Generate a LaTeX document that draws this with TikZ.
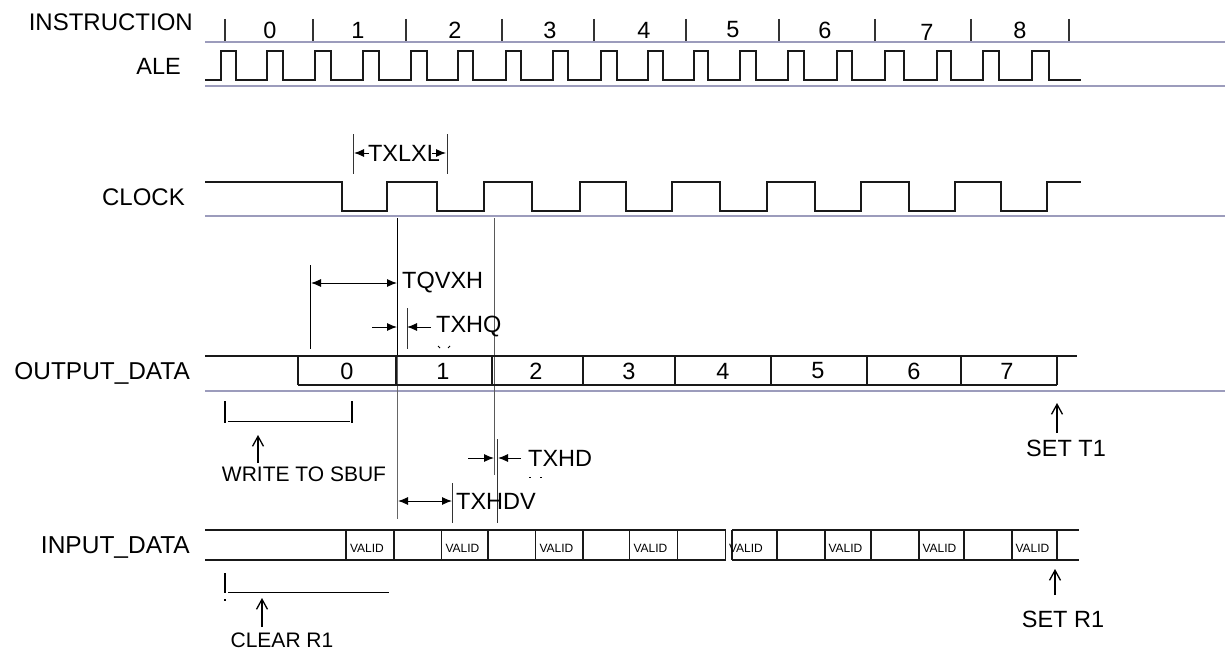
\documentclass[tikz,border=0pt]{standalone}
\usepackage{fontspec}
\setmainfont{Liberation Sans}
\usetikzlibrary{arrows.meta}
\definecolor{axisgray}{HTML}{9C9CBC}
\tikzset{
	axis/.style={line width=1.5pt, color=axisgray},
	signal/.style={line width=1.5pt, color=black!90},
	thinbar/.style={line width=0.8pt, color=black!80},
	dim/.style={line width=1pt, {Latex[length=10pt,width=8pt]}-{Latex[length=10pt,width=8pt]}},
	dimto/.style={line width=1pt, -{Latex[length=10pt,width=8pt]}},
	openup/.style={line width=1.3pt, -{Straight Barb[length=10pt,width=11pt]}},
	lbl/.style={inner sep=0pt, font=\fontsize{23.5}{25}\selectfont},
	small/.style={inner sep=0pt, font=\fontsize{12}{14}\selectfont}
}

\begin{document}
\begin{tikzpicture}[x=1pt, y=-1pt]
		%%%%% START %%%%%
		\useasboundingbox (0, 0) rectangle (1225, 650);
		
		% row labels
		\node[lbl, font=\fontsize{24}{26}\selectfont, anchor=east] (instruction) at (193, 22) {INSTRUCTION};
		\node[lbl, anchor=east] (ale) at (181, 66) {ALE};
		\node[lbl, font=\fontsize{24}{26}\selectfont, anchor=east] (clock) at (185, 197) {CLOCK};
		\node[lbl, font=\fontsize{24.4}{27}\selectfont, anchor=east] (outputdata) at (190, 373) {OUTPUT\_DATA};
		\node[lbl, font=\fontsize{24.5}{27}\selectfont, anchor=east] (inputdata) at (190, 547) {INPUT\_DATA};
		
		% grey rules under the rows
		\draw[axis] (205, 42) -- (1225, 42);
		\draw[axis] (205, 86) -- (1225, 86);
		\draw[axis] (205, 216) -- (1225, 216);
		\draw[axis] (205, 391) -- (1225, 391);
		
		% instruction cycles
		\foreach \x in {225, 313, 406, 502, 594, 686, 779, 875, 971, 1069}
			\draw[line width=1.2pt, color=black!80] (\x, 19) -- (\x, 41);
		\foreach \x/\n in {270/0, 358/1, 455/2, 550/3, 644/4, 733/5, 825/6, 1020/8}
			\node[lbl] (cycle\n) at (\x, 30) {\n};
		\node[lbl] (cycle7) at (927, 32) {7};
		
		% ALE
		\draw[signal] (205, 80) -| (221, 51) -| (236, 80) -| (267, 51) -| (283, 80) -| (315, 51) -| (331, 80)
			-| (363, 51) -| (379, 80) -| (411, 51) -| (427, 80) -| (458, 51) -| (473, 80) -| (506, 51) -| (521, 80)
			-| (553, 51) -| (568, 80) -| (601, 51) -| (617, 80) -| (648, 51) -| (663, 80) -| (694, 51) -| (708, 80)
			-| (740, 51) -| (756, 80) -| (788, 51) -| (804, 80) -| (837, 51) -| (852, 80) -| (885, 51) -| (904, 80)
			-| (937, 51) -| (951, 80) -| (983, 51) -| (999, 80) -| (1032, 51) -| (1049, 80) -- (1081, 80);
		
		% CLOCK
		\draw[signal] (205, 182) -| (342, 211) -| (387, 182) -| (437, 211) -| (484, 182) -| (532, 211) -| (580, 182)
			-| (626, 211) -| (672, 182) -| (720, 211) -| (767, 182) -| (815, 211) -| (861, 182) -| (909, 211)
			-| (955, 182) -| (1001, 211) -| (1047, 182) -- (1081, 182);
		
		% TXLXL
		\draw[thinbar] (353, 134) -- (353, 174);
		\draw[thinbar] (447, 134) -- (447, 174);
		\node[lbl] (txlxl) at (404, 153) {TXLXL};
		\coordinate (txlxlA) at (369, 153);
		\coordinate (txlxlB) at (354, 153);
		\coordinate (txlxlC) at (432, 153);
		\coordinate (txlxlD) at (446, 153);
		\draw[dimto] (txlxlA) -- (txlxlB);
		\draw[dimto] (txlxlC) -- (txlxlD);
		
		% long edges from the clock
		\draw[line width=1pt, color=black] (397, 218) -- (397, 356);
		\draw[line width=1pt, color=black!60] (397, 356) -- (397, 519);
		\draw[line width=1pt, color=black!65] (494, 218) -- (494, 475);
		
		% TQVXH
		\draw[line width=1pt] (310, 265) -- (310, 349);
		\coordinate (tqvxhL) at (311, 283);
		\coordinate (tqvxhR) at (397, 283);
		\draw[dim] (tqvxhL) -- (tqvxhR);
		\node[lbl, anchor=west] (tqvxh) at (402, 283) {TQVXH};
		
		% TXHQ
		\draw[thinbar] (407, 308) -- (407, 349);
		\coordinate (txhqA) at (372, 327);
		\coordinate (txhqB) at (397, 327);
		\coordinate (txhqC) at (431, 327);
		\coordinate (txhqD) at (407, 327);
		\draw[dimto] (txhqA) -- (txhqB);
		\draw[dimto] (txhqC) -- (txhqD);
		\node[lbl, anchor=west] (txhq) at (436, 327) {TXHQ};
		\draw[line width=1pt] (438, 346) -- (440, 348);
		\draw[line width=1pt] (450, 346) -- (448, 348);
		
		% OUTPUT_DATA
		\draw[signal] (205, 356) -- (1077, 356);
		\draw[signal] (298, 385) -- (1057, 385);
		\foreach \x in {298, 396, 492, 583, 675, 771, 867, 961, 1057}
			\draw[signal] (\x, 356) -- (\x, 385);
		\foreach \x/\n in {347/0, 443/1, 536/2, 629/3, 723/4, 818/5, 914/6, 1007/7}
			\node[lbl] (bit\n) at (\x, 371) {\n};
		
		% WRITE TO SBUF
		\draw[line width=1.3pt] (225, 401) -- (225, 423);
		\draw[line width=1.3pt] (352, 401) -- (352, 423);
		\draw[line width=1pt] (228, 421) -- (350, 421);
		\node[lbl, font=\fontsize{21}{23}\selectfont] (writesbuf) at (304, 474) {WRITE TO SBUF};
		\coordinate (writetail) at (258, 463);
		\coordinate (writehead) at (258, 435);
		\draw[openup] (writetail) -- (writehead);
		
		% TXHD
		\draw[thinbar] (497, 439) -- (497, 523);
		\coordinate (txhdA) at (468, 458);
		\coordinate (txhdB) at (494, 458);
		\coordinate (txhdC) at (521, 458);
		\coordinate (txhdD) at (498, 458);
		\draw[dimto] (txhdA) -- (txhdB);
		\draw[dimto] (txhdC) -- (txhdD);
		\node[lbl, anchor=west] (txhd) at (528, 458) {TXHD};
		\draw[line width=1pt] (529, 477) -- (531, 477);
		\draw[line width=1pt] (540, 477) -- (542, 477);
		
		% TXHDV
		\draw[thinbar] (452, 483) -- (452, 523);
		\coordinate (txhdvL) at (398, 501);
		\coordinate (txhdvR) at (452, 501);
		\draw[dim] (txhdvL) -- (txhdvR);
		\node[lbl, anchor=west] (txhdv) at (456, 501) {TXHDV};
		
		% INPUT_DATA
		\draw[signal] (205, 530) -- (725.5, 530);
		\draw[signal] (205, 560) -- (725.5, 560);
		\draw[signal] (732, 530) -- (1079, 530);
		\draw[signal] (732, 560) -- (1079, 560);
		\foreach \x in {346, 394, 441.5, 488, 535.5, 583, 629.5, 677.5, 725.5, 732, 777, 825, 871, 919, 964, 1012, 1057}
			\draw[signal] (\x, 530) -- (\x, 560);
		\foreach \x/\n in {367/a, 462.5/b, 556.5/c, 650.5/d, 746/e, 845.5/f, 939.5/g, 1032.5/h}
			\node[small] (valid\n) at (\x, 548) {VALID};
		
		% CLEAR R1
		\draw[line width=1.3pt] (225, 573) -- (225, 593);
		\draw[line width=1.3pt] (225, 599) -- (225, 601);
		\draw[line width=1pt] (228, 592) -- (389, 592);
		\coordinate (cleartail) at (262, 627);
		\coordinate (clearhead) at (262, 598);
		\draw[openup] (cleartail) -- (clearhead);
		\node[lbl, font=\fontsize{21}{23}\selectfont] (clearr) at (282, 640) {CLEAR R1};
		
		% SET T1 and SET R1
		\coordinate (settail) at (1057, 433);
		\coordinate (sethead) at (1057, 403);
		\draw[openup] (settail) -- (sethead);
		\node[lbl] (sett) at (1066, 448) {SET T1};
		\coordinate (setrtail) at (1055, 595);
		\coordinate (setrhead) at (1055, 569);
		\draw[openup] (setrtail) -- (setrhead);
		\node[lbl] (setr) at (1063, 619) {SET R1};
		
		%%%%% END %%%%%
	\end{tikzpicture}
\end{document}
